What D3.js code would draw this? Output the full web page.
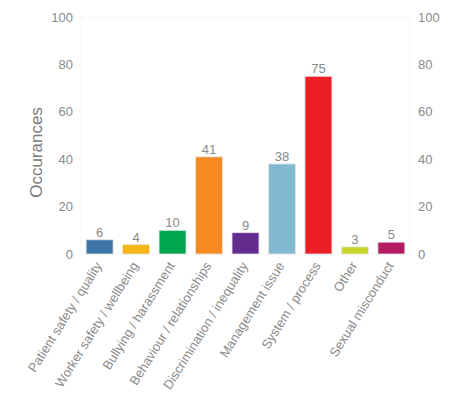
<!DOCTYPE html>
<html>
<head>
<meta charset="utf-8">
<script src="https://cdn.jsdelivr.net/npm/d3@7"></script>
<style>
  body { margin: 0; background: #fff; }
  svg { font-family: "Liberation Sans", Arial, sans-serif; }
</style>
</head>
<body>
<svg id="chart" width="462" height="402"></svg>
<script>
// chart data
const categories = [
  "Patient safety / quality",
  "Worker safety / wellbeing",
  "Bullying / harassment",
  "Behaviour / relationships",
  "Discrimination / inequality",
  "Management issue",
  "System / process",
  "Other",
  "Sexual misconduct"
];
const occurances = [6, 4, 10, 41, 9, 38, 75, 3, 5];
const barColors = ["#3b75a8", "#f9b617", "#00a54f", "#f58a22", "#652c90", "#81b9d1", "#ec1f26", "#c9d62b", "#b41d63"];
const yTicks = [0, 20, 40, 60, 80, 100];

const plotLeft = 81, plotRight = 410, plotTop = 17, plotBottom = 254;
const textColor = "#8a8a8a";

const svg = d3.select("#chart");

const x = d3.scaleBand()
    .domain(categories)
    .range([plotLeft, plotRight])
    .paddingInner(0.26)
    .paddingOuter(0.14);

const y = d3.scaleLinear()
    .domain([0, 100])
    .range([plotBottom, plotTop]);

// faint plot frame
svg.append("rect")
    .attr("x", plotLeft)
    .attr("y", plotTop)
    .attr("width", plotRight - plotLeft)
    .attr("height", plotBottom - plotTop)
    .style("fill", "none")
    .style("stroke", "#f7f7f7")
    .style("stroke-width", 1);

// left axis
const leftAxis = svg.append("g")
    .attr("transform", `translate(${plotLeft - 8},0)`)
    .call(d3.axisLeft(y).tickValues(yTicks).tickSize(0).tickPadding(0));
leftAxis.select(".domain").remove();
leftAxis.selectAll("text")
    .style("font-size", "13px")
    .style("fill", textColor);

// right axis
const rightAxis = svg.append("g")
    .attr("transform", `translate(${plotRight + 8},0)`)
    .call(d3.axisRight(y).tickValues(yTicks).tickSize(0).tickPadding(0));
rightAxis.select(".domain").remove();
rightAxis.selectAll("text")
    .style("font-size", "13px")
    .style("fill", textColor);

// y title
svg.append("text")
    .attr("transform", `translate(42,${(plotTop + plotBottom) / 2 + 17}) rotate(-90)`)
    .attr("text-anchor", "middle")
    .style("font-size", "17px")
    .style("fill", "#7a7a7a")
    .text("Occurances");

// bars
svg.selectAll(".bar")
    .data(occurances)
    .enter()
    .append("rect")
    .attr("class", "bar")
    .attr("x", (d, i) => x(categories[i]))
    .attr("width", x.bandwidth())
    .attr("y", d => y(d))
    .attr("height", d => y(0) - y(d))
    .style("fill", (d, i) => barColors[i])
    .style("stroke", "#e6e6e6")
    .style("stroke-width", 0.8);

// value labels
svg.selectAll(".val")
    .data(occurances)
    .enter()
    .append("text")
    .attr("class", "val")
    .attr("x", (d, i) => x(categories[i]) + x.bandwidth() / 2)
    .attr("y", d => y(d) - 3)
    .attr("text-anchor", "middle")
    .style("font-size", "13px")
    .style("fill", textColor)
    .text(d => d);

// x labels, rotated
svg.selectAll(".xlab")
    .data(categories)
    .enter()
    .append("text")
    .attr("class", "xlab")
    .attr("transform", d => `translate(${x(d) + x.bandwidth() / 2 - 1},${plotBottom + 9}) rotate(-58)`)
    .attr("text-anchor", "end")
    .attr("dy", "0.35em")
    .style("font-size", "13px")
    .style("fill", textColor)
    .text(d => d);
</script>
</body>
</html>
